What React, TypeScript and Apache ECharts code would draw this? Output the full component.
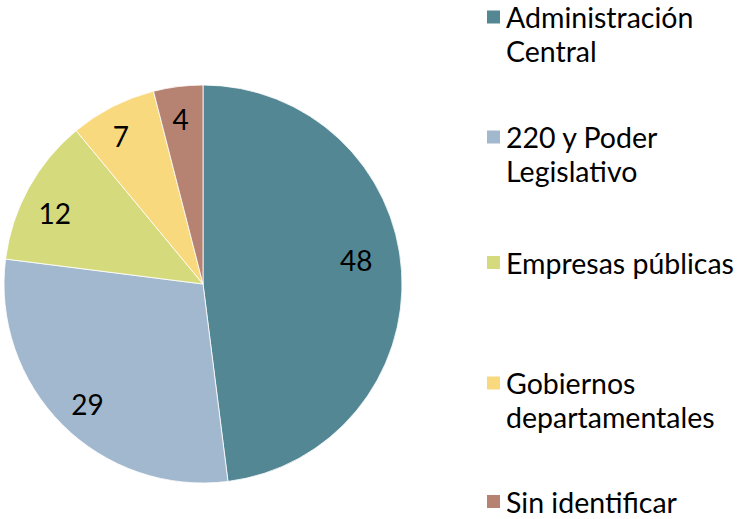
import React, { useEffect, useRef } from "react";
import * as echarts from "echarts";

const categories = [
  "Administración Central",
  "220 y Poder Legislativo",
  "Empresas públicas",
  "Gobiernos departamentales",
  "Sin identificar",
];
const values = [48, 29, 12, 7, 4];
const legendLabels = [
  "Administración\nCentral",
  "220 y Poder\nLegislativo",
  "Empresas públicas",
  "Gobiernos\ndepartamentales",
  "Sin identificar",
];
const colors = ["#528793", "#A2B8CE", "#D5DB7C", "#F9D97E", "#B68272"];

// style: small nudges of the value labels (Office "best fit" placement)
const labelNudge = [
  [-10, -14],
  [0, 4],
  [-5, 8],
  [-8, -2],
  [-2, -3],
];

const FONT = "Lato";
const LINE_H = 34;
const ICON = 15;
const legendCenters = [17, 137, 260, 383, 499];

export default function App() {
  const ref = useRef<HTMLDivElement>(null);
  useEffect(() => {
    if (!ref.current) return;
    const chart = echarts.init(ref.current, null, { renderer: "svg" });
    const data = categories.map((name, i) => ({
      name,
      value: values[i],
      itemStyle: { color: colors[i] },
    }));
    const legends = categories.map((name, i) => {
      const lines = legendLabels[i].split("\n").length;
      const lh = lines > 1 ? LINE_H : 24;
      const total = lines * 2 - 1;
      const text = (lines > 1 ? "\n".repeat(lines - 1) : "") + legendLabels[i];
      const boxH = Math.max(ICON, total * lh);
      return {
        data: [name],
        orient: "vertical",
        left: 485,
        top: legendCenters[i] - boxH / 2,
        padding: 0,
        itemWidth: ICON,
        itemHeight: ICON,
        itemGap: 0,
        icon: "rect",
        selectedMode: false,
        formatter: () => text,
        textStyle: {
          fontFamily: FONT,
          fontSize: 28.5,
          color: "#000",
          lineHeight: lh,
        },
      };
    });
    chart.setOption({
      animation: false,
      backgroundColor: "#fff",
      legend: legends,
      series: [
        {
          type: "pie",
          center: [203, 284],
          radius: [0, 199],
          startAngle: 90,
          clockwise: true,
          data,
          label: { show: false },
          labelLine: { show: false },
          itemStyle: { borderColor: "#fff", borderWidth: 0.8 },
          emphasis: { disabled: true },
        },
        {
          type: "pie",
          center: [203, 284],
          radius: [122, 199],
          startAngle: 90,
          clockwise: true,
          silent: true,
          data: categories.map((name, i) => ({
            name,
            value: values[i],
            label: { offset: labelNudge[i] },
          })),
          itemStyle: { color: "rgba(0,0,0,0)", borderWidth: 0 },
          label: {
            show: true,
            position: "inside",
            formatter: "{c}",
            fontFamily: FONT,
            fontSize: 28,
            color: "#000",
          },
          labelLine: { show: false },
          emphasis: { disabled: true },
        },
      ],
    });
    return () => chart.dispose();
  }, []);
  return (
    <div
      ref={ref}
      style={{ position: "fixed", left: 0, top: 0, width: 739, height: 519 }}
    />
  );
}
